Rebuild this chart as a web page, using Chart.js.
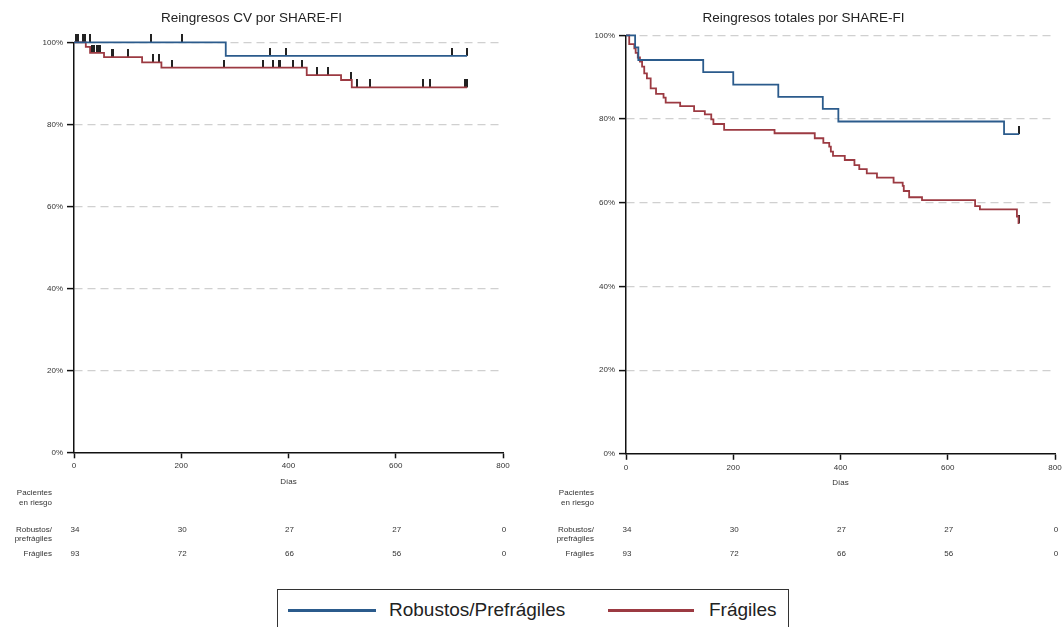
<!DOCTYPE html>
<html>
<head>
<meta charset="utf-8">
<script src="https://cdn.jsdelivr.net/npm/chart.js@4.4.0/dist/chart.umd.min.js"></script>
<style>
    html, body { margin: 0; padding: 0; background: #fff; overflow: hidden; }
    body { width: 1062px; height: 627px; position: relative; font-family: "Liberation Sans", Arial, sans-serif; }
    .panel { position: absolute; top: 0; width: 577px; height: 585px; }
    #legend {
        position: absolute; left: 277px; top: 589px; width: 512px; height: 60px;
        border: 1.5px solid #333; box-sizing: border-box; background: #fff;
    }
    #legend .key { position: absolute; top: 18.5px; height: 3px; }
    #legend .lab { position: absolute; top: 9px; line-height: 22px; font-size: 19px; color: #222; white-space: nowrap; }
</style>
</head>
<body>
<div class="panel" style="left:0px"><canvas id="cvChart"></canvas></div>
<div class="panel" style="left:552px"><canvas id="totChart"></canvas></div>
<div id="legend">
    <span class="key" style="left:9.5px; width:88px; background:#2b5b8c"></span>
    <span class="lab" style="left:111px">Robustos/Prefrágiles</span>
    <span class="key" style="left:329.5px; width:86px; background:#9c3a42"></span>
    <span class="lab" style="left:431px">Frágiles</span>
</div>
<script>
// at-risk table (same for both panels)
const riskTimes = [0, 200, 400, 600, 800];
const riskRobustos = [34, 30, 27, 27, 0];
const riskFragiles = [93, 72, 66, 56, 0];

// Reingresos CV: Kaplan-Meier steps (days, % free of event)
const cvRobTime = [0, 283, 733];
const cvRobSurv = [100, 96.7, 96.7];
const cvFraTime = [0, 22, 30, 56, 127, 163, 434, 498, 518, 733];
const cvFraSurv = [100, 98.9, 97.4, 96.4, 95.1, 93.8, 92.0, 90.8, 89.0, 89.0];
const cvRobCensor = [3, 7, 17, 20, 30, 144, 201, 366, 395, 705, 733];
const cvFraCensor = [34, 38, 42, 47, 49, 70, 72, 101, 147, 159, 183, 280, 353, 372, 382, 385,
    409, 426, 453, 473, 516, 528, 552, 651, 664, 730, 732];

// Reingresos totales
const totRobTime = [0, 17, 23, 144, 200, 284, 367, 396, 705, 733];
const totRobSurv = [100, 97.1, 94.1, 91.2, 88.2, 85.3, 82.4, 79.4, 76.4, 76.4];
const totFraTime = [0, 6, 15.5, 18, 22, 26, 30, 34, 39, 46, 56, 70, 74, 101, 127, 147, 159, 163, 183, 277,
    352, 368, 379, 382, 386, 408, 426, 435, 449, 468, 499, 516, 518, 528, 552, 651, 660, 729, 732, 733];
const totFraSurv = [100, 97.9, 96.9, 95.8, 94.7, 93.7, 92.5, 90.9, 89.7, 87.3, 86.0, 85.1, 83.9, 83.1, 81.9,
    81.1, 79.9, 78.8, 77.4, 76.6, 75.4, 74.3, 73.4, 72.2, 71.2, 70.2, 69.0, 68.0, 67.0, 66.0, 64.8, 64.0,
    62.8, 61.3, 60.6, 59.2, 58.4, 56.7, 55.1, 55.1];
const totRobCensor = [733];
const totFraCensor = [732.5, 733.5];

const BLUE = '#2b5b8c';
const RED = '#9c3a42';
const FONT = '"Liberation Sans", Arial, sans-serif';

Chart.defaults.font.family = FONT;

// step lookup: value of the curve at time t
function stepAt(times, surv, t) {
    let v = surv[0];
    for (let i = 0; i < times.length; i++) {
        if (times[i] <= t) v = surv[i];
    }
    return v;
}

function toPoints(times, surv) {
    return times.map((t, i) => ({ x: t, y: surv[i] }));
}

function censorPoints(censor, times, surv) {
    return censor.map(t => ({ x: t, y: stepAt(times, surv, t) }));
}

// vertical censor mark sitting on top of the curve
function censorMark() {
    const c = document.createElement('canvas');
    c.width = 2;
    c.height = 16;
    const g = c.getContext('2d');
    g.fillStyle = '#222';
    g.fillRect(0, 0, 2, 8);
    return c;
}
const mark = censorMark();

const riskTable = {
    id: 'riskTable',
    afterDraw(chart, args, opts) {
        const { ctx, chartArea, scales: { x } } = chart;
        const lx = chartArea.left - opts.labelGap;
        ctx.save();
        ctx.font = '8px ' + FONT;
        ctx.fillStyle = '#333';
        ctx.textBaseline = 'middle';
        ctx.textAlign = 'right';
        ctx.fillText('Pacientes', lx, 493);
        ctx.fillText('en riesgo', lx, 503);
        ctx.fillText('Robustos/', lx, 530);
        ctx.fillText('prefrágiles', lx, 539);
        ctx.fillText('Frágiles', lx, 554);
        ctx.textAlign = 'center';
        riskTimes.forEach((t, i) => {
            const px = x.getPixelForValue(t) + 1;
            ctx.fillText(String(riskRobustos[i]), px, 530);
            ctx.fillText(String(riskFragiles[i]), px, 554);
        });
        ctx.restore();
    }
};

function makeChart(id, title, titleBottom, padBottom, labelGap, rob, fra) {
    const lineDs = (data, color) => ({
        type: 'line', data, borderColor: color, borderWidth: 1.8,
        stepped: true, pointRadius: 0, fill: false, clip: false
    });
    const censorDs = data => ({
        type: 'scatter', data, pointStyle: mark, pointRadius: 1, clip: false
    });
    new Chart(document.getElementById(id), {
        type: 'line',
        data: {
            datasets: [
                lineDs(toPoints(rob.time, rob.surv), BLUE),
                lineDs(toPoints(fra.time, fra.surv), RED),
                censorDs(censorPoints(rob.censor, rob.time, rob.surv)),
                censorDs(censorPoints(fra.censor, fra.time, fra.surv))
            ]
        },
        options: {
            responsive: false,
            animation: false,
            events: [],
            layout: { padding: { left: 0, right: 74, top: 0, bottom: padBottom } },
            plugins: {
                legend: { display: false },
                tooltip: { enabled: false },
                title: {
                    display: true, text: title, color: '#222',
                    font: { size: 13.5, weight: 'normal' },
                    padding: { top: 10, bottom: titleBottom }
                },
                riskTable: { labelGap }
            },
            scales: {
                x: {
                    type: 'linear', min: 0, max: 800,
                    afterFit: s => { s.height = 34; },
                    ticks: { stepSize: 200, color: '#333', font: { size: 8 }, padding: 3, maxRotation: 0 },
                    grid: { drawOnChartArea: false, tickColor: '#111', tickLength: 6, tickWidth: 1.5 },
                    border: { color: '#111', width: 1.5 },
                    title: { display: true, text: 'Días', color: '#333', font: { size: 8 }, padding: 0 }
                },
                y: {
                    min: 0, max: 100,
                    afterFit: s => { s.width = 74; },
                    ticks: { stepSize: 20, callback: v => v + '%', color: '#333', font: { size: 8 }, padding: 4 },
                    grid: {
                        color: c => (c.tick && c.tick.value === 0) ? 'rgba(0,0,0,0)' : '#d0d0d0',
                        lineWidth: 1.2, tickColor: '#111', tickLength: 7, tickWidth: 1.5
                    },
                    border: { color: '#111', width: 1.5, dash: [8, 5] }
                }
            }
        },
        plugins: [riskTable]
    });
}

const size = { width: 577, height: 585 };
['cvChart', 'totChart'].forEach(id => {
    const c = document.getElementById(id);
    c.width = size.width;
    c.height = size.height;
    c.style.width = size.width + 'px';
    c.style.height = size.height + 'px';
});

makeChart('cvChart', 'Reingresos CV por SHARE-FI', 16.1, 98.7, 22,
    { time: cvRobTime, surv: cvRobSurv, censor: cvRobCensor },
    { time: cvFraTime, surv: cvFraSurv, censor: cvFraCensor });

makeChart('totChart', 'Reingresos totales por SHARE-FI', 9.1, 97.2, 32,
    { time: totRobTime, surv: totRobSurv, censor: totRobCensor },
    { time: totFraTime, surv: totFraSurv, censor: totFraCensor });
</script>
</body>
</html>
